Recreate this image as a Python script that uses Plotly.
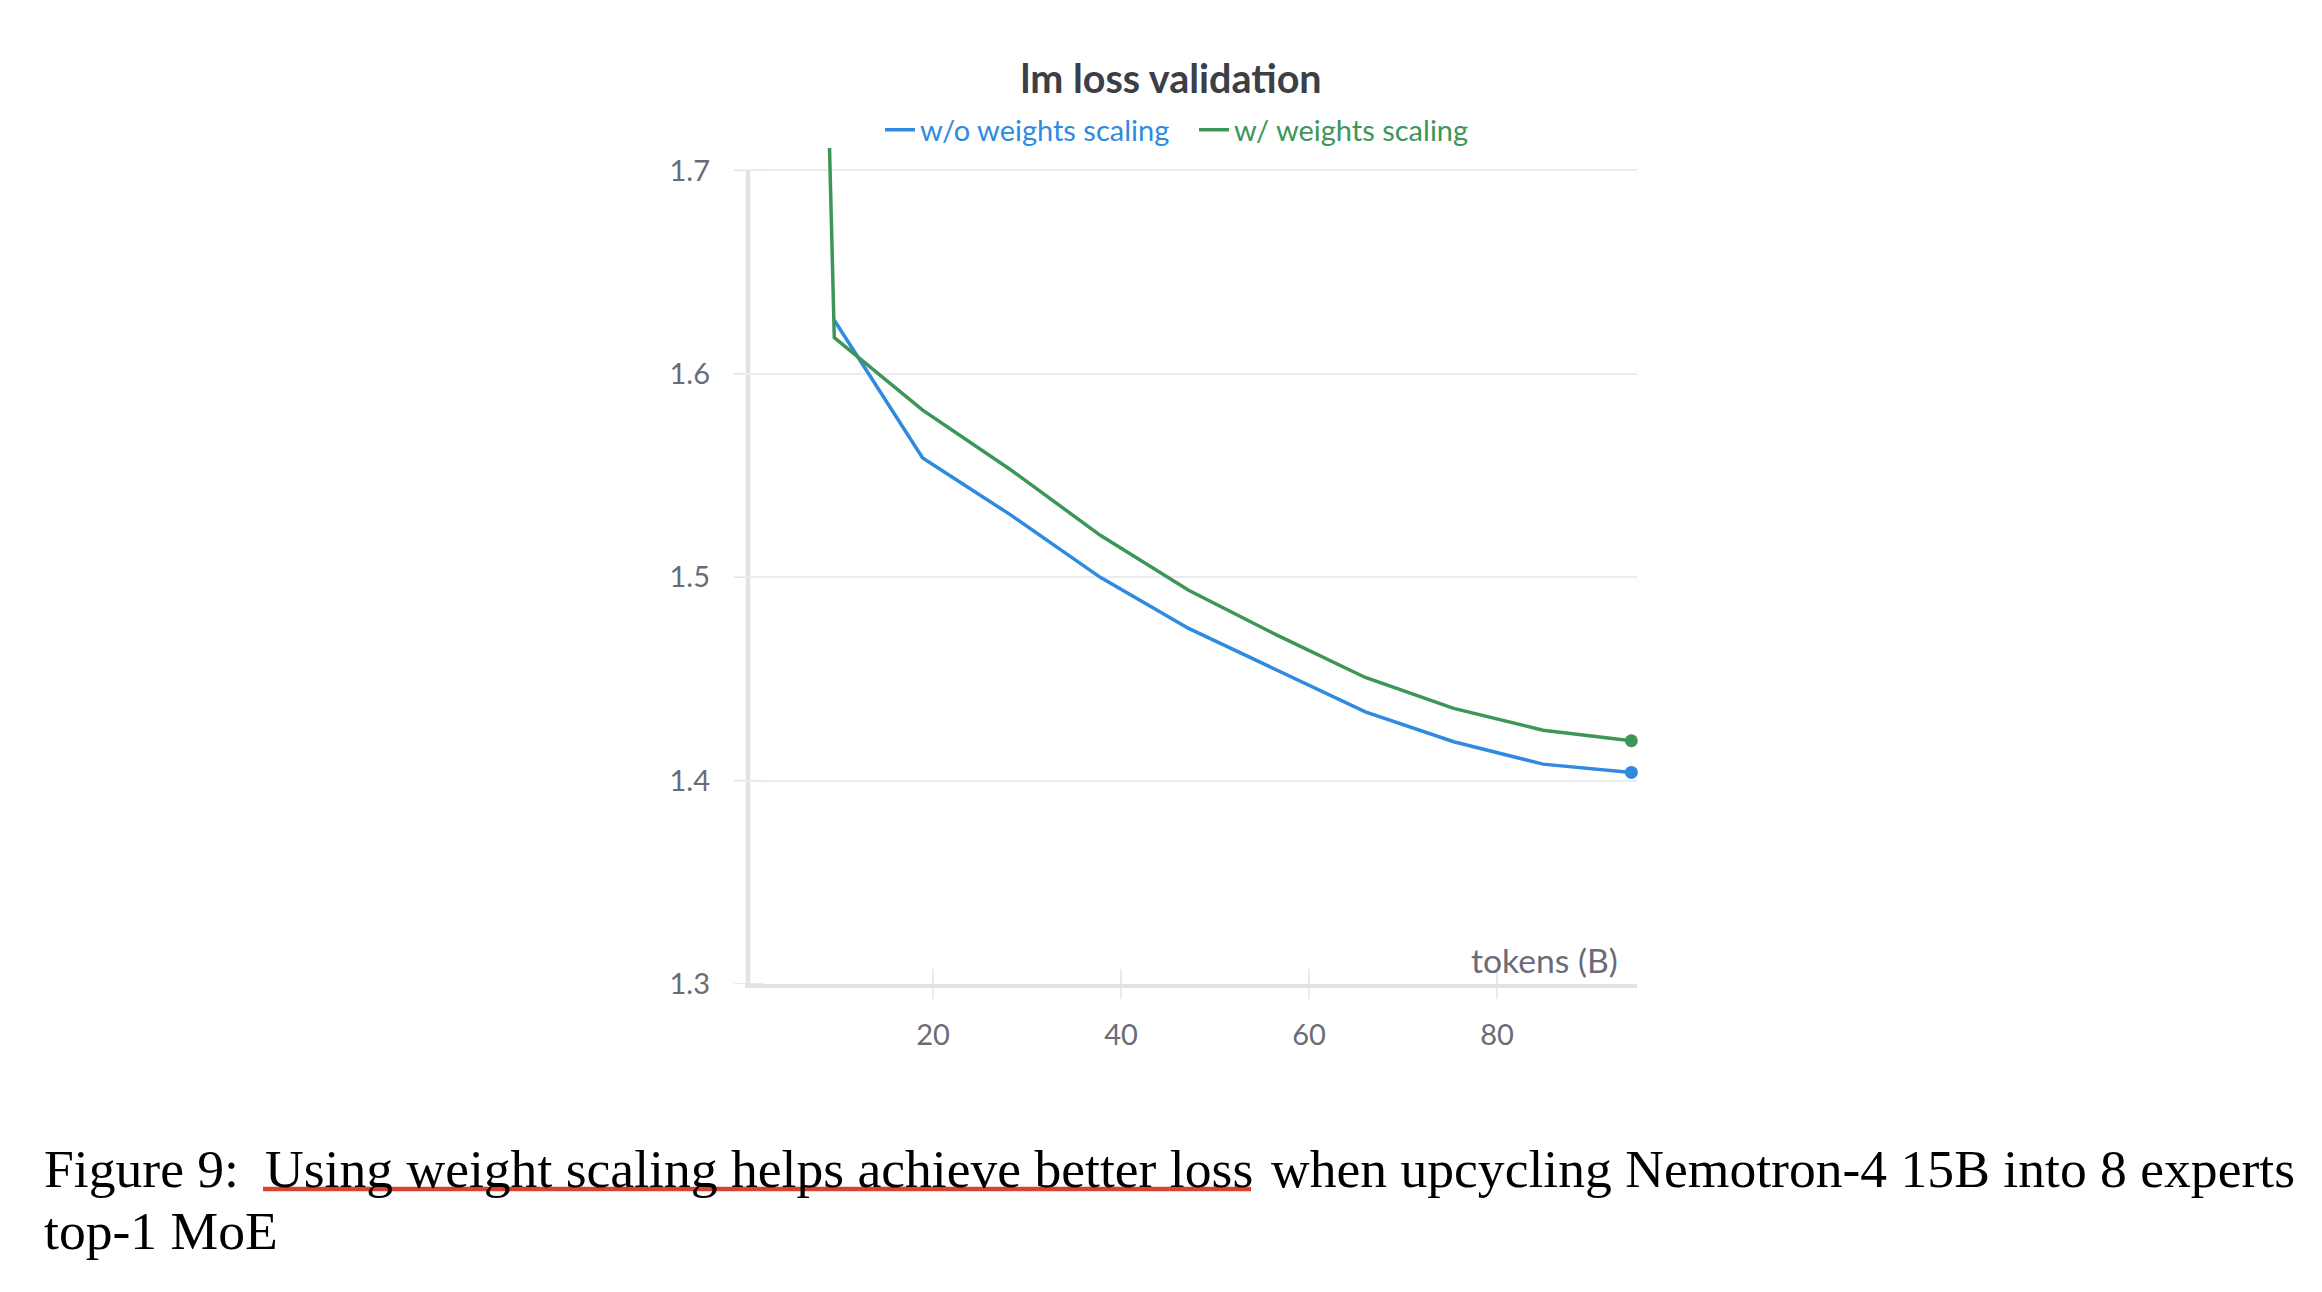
import plotly.graph_objects as go

# ---------------- data ----------------
tokens_wo = [9.5, 18.9, 28.3, 37.8, 47.2, 56.6, 66.0, 75.4, 84.9, 94.3]
loss_wo = [1.6263, 1.5586, 1.5305, 1.4999, 1.4748, 1.4543, 1.4338, 1.4191, 1.4081, 1.4040]

tokens_w = [0.0, 9.5, 18.9, 28.3, 37.8, 47.2, 56.6, 66.0, 75.4, 84.9, 94.3]
loss_w = [3.36, 1.6178, 1.5821, 1.5527, 1.5206, 1.4936, 1.4715, 1.4507, 1.4355, 1.4248, 1.4196]

x_ticks = [20, 40, 60, 80]
y_ticks = [1.3, 1.4, 1.5, 1.6, 1.7]

title_text = "lm loss validation"
name_wo = "w/o weights scaling"
name_w = "w/ weights scaling"
x_label = "tokens (B)"
caption_prefix = "Figure 9:"
caption_underlined = "Using weight scaling helps achieve better loss"
caption_rest = "when upcycling Nemotron-4 15B into 8 experts"
caption_line2 = "top-1 MoE"

# ---------------- style ----------------
BLUE = "#2f8ae0"
GREEN = "#3d9657"
GRID = "#ececee"
AXIS = "#e2e2e6"
TICKTXT = "#6b6b78"
SANS = "Lato, 'Noto Sans', sans-serif"
SERIF = "'Liberation Serif', 'DejaVu Serif', serif"

W, H = 2322, 1292
L, R, T, B = 745, 1637, 148, 984
PW, PH = R - L, B - T


def px(xp):
    return (xp - L) / PW


def py(yp):
    return (B - yp) / PH


fig = go.Figure()
fig.add_trace(go.Scatter(x=tokens_wo, y=loss_wo, mode="lines",
                         line=dict(color=BLUE, width=3.5),
                         name=f"<span style='color:{BLUE}'>{name_wo}</span>"))
fig.add_trace(go.Scatter(x=tokens_w, y=loss_w, mode="lines",
                         line=dict(color=GREEN, width=3.5),
                         name=f"<span style='color:{GREEN}'>{name_w}</span>"))
# end-point dots
fig.add_trace(go.Scatter(x=[tokens_wo[-1]], y=[loss_wo[-1]], mode="markers",
                         marker=dict(color=BLUE, size=13), showlegend=False,
                         cliponaxis=False))
fig.add_trace(go.Scatter(x=[tokens_w[-1]], y=[loss_w[-1]], mode="markers",
                         marker=dict(color=GREEN, size=13), showlegend=False,
                         cliponaxis=False))

shapes = []
# y axis line (from lowest to highest tick)
shapes.append(dict(type="line", xref="paper", yref="y", x0=px(748), x1=px(748),
                   y0=min(y_ticks), y1=max(y_ticks),
                   line=dict(color=AXIS, width=4.5), layer="below"))
# crossing tick marks
for v in x_ticks:
    shapes.append(dict(type="line", xref="x", yref="paper", x0=v, x1=v,
                       ysizemode="pixel", yanchor=0, y0=-15, y1=15,
                       line=dict(color=AXIS, width=1.5), layer="below"))
for v in y_ticks:
    shapes.append(dict(type="line", xref="paper", yref="y", y0=v, y1=v,
                       xsizemode="pixel", xanchor=px(748), x0=-14, x1=15,
                       line=dict(color=AXIS, width=1.5), layer="below"))
# red underline of the caption
shapes.append(dict(type="line", xref="paper", yref="paper",
                   x0=px(263), x1=px(1251), y0=py(1189), y1=py(1189),
                   line=dict(color="#d9432f", width=4.5)))

CAP = 53.6
annotations = [
    dict(text=x_label, xref="paper", yref="paper", x=px(1620), y=py(960),
         xanchor="right", yanchor="middle", showarrow=False,
         font=dict(family=SANS, size=33.7, color=TICKTXT)),
    dict(text=caption_prefix, xref="paper", yref="paper", x=px(42), y=py(1169),
         xanchor="left", yanchor="middle", showarrow=False,
         font=dict(family=SERIF, size=CAP, color="black")),
    dict(text=caption_underlined, xref="paper", yref="paper", x=px(263), y=py(1169),
         xanchor="left", yanchor="middle", showarrow=False,
         font=dict(family=SERIF, size=CAP, color="black")),
    dict(text=caption_rest, xref="paper", yref="paper", x=px(2297), y=py(1169),
         xanchor="right", yanchor="middle", showarrow=False,
         font=dict(family=SERIF, size=CAP, color="black")),
    dict(text=caption_line2, xref="paper", yref="paper", x=px(42), y=py(1231),
         xanchor="left", yanchor="middle", showarrow=False,
         font=dict(family=SERIF, size=CAP, color="black")),
]

fig.update_layout(
    width=W, height=H,
    margin=dict(l=L, r=W - R, t=T, b=H - B, pad=0, autoexpand=False),
    paper_bgcolor="white", plot_bgcolor="white",
    title=dict(text=f"<b>{title_text}</b>", x=1171 / W, xanchor="center",
               yref="container", y=1 - 79 / H, yanchor="middle",
               font=dict(family=SANS, size=39.5, color="#3b3f47")),
    legend=dict(orientation="h", x=px(1194), xanchor="center",
                yref="container", y=1 - 130 / H, yanchor="middle",
                font=dict(family=SANS, size=29), itemwidth=30,
                entrywidth=269, entrywidthmode="pixels",
                bgcolor="rgba(0,0,0,0)"),
    xaxis=dict(range=[0, 94.9], tickvals=x_ticks, ticktext=[str(v) for v in x_ticks],
               showgrid=False, zeroline=False, showline=True, linecolor=AXIS, linewidth=4,
               ticks="", ticklabelstandoff=22,
               tickfont=dict(family=SANS, size=29, color=TICKTXT)),
    yaxis=dict(range=[1.3, 1.711], tickvals=y_ticks, ticktext=[f"{v:.1f}" for v in y_ticks],
               showgrid=True, gridcolor=GRID, gridwidth=1.5, zeroline=False, showline=False,
               ticks="", ticklabelstandoff=34,
               tickfont=dict(family=SANS, size=29, color=TICKTXT)),
    shapes=shapes,
    annotations=annotations,
    showlegend=True,
)

fig.write_html("out.html")
